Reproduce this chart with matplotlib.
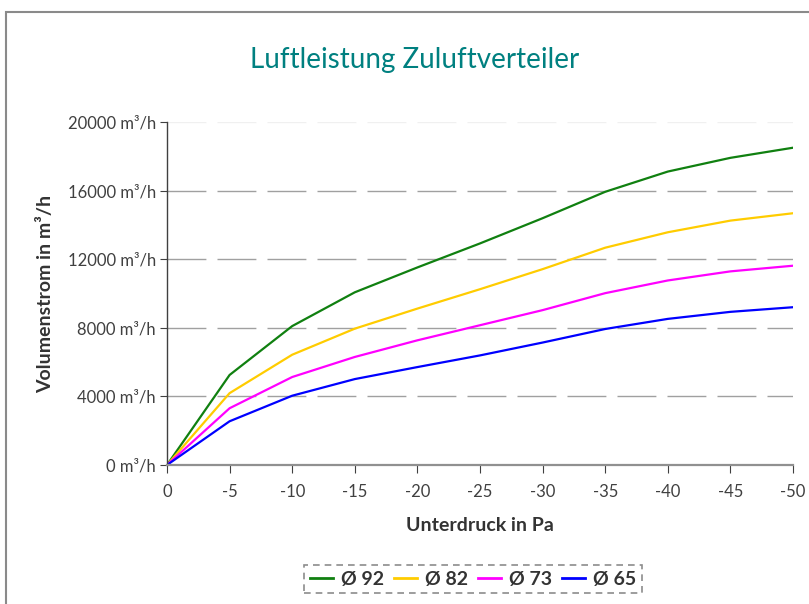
import matplotlib.pyplot as plt
from matplotlib.patches import Rectangle
from matplotlib.ticker import FuncFormatter

plt.rcParams['axes.unicode_minus'] = False
plt.rcParams['font.family'] = ['Lato', 'DejaVu Sans']

# Daten
druck = [0, -5, -10, -15, -20, -25, -30, -35, -40, -45, -50]
d92 = [0, 5250, 8100, 10070, 11520, 12920, 14390, 15930, 17110, 17910, 18500]
d82 = [0, 4190, 6430, 7950, 9120, 10250, 11420, 12670, 13570, 14250, 14680]
d73 = [0, 3310, 5130, 6300, 7270, 8150, 9030, 10020, 10760, 11290, 11620]
d65 = [0, 2550, 4040, 5010, 5710, 6390, 7140, 7930, 8520, 8930, 9200]
namen = ['Ø 92', 'Ø 82', 'Ø 73', 'Ø 65']
farben = ['#108010', '#FFCC00', '#FF00FF', '#0000FF']

fig = plt.figure(figsize=(8.09, 6.04), dpi=100)

# Rahmen um das Diagramm
fig.patches.append(Rectangle((6 / 809, -0.1), 1.2, 1.1 - 12 / 604,
                             transform=fig.transFigure, fill=False,
                             edgecolor='#8a8a8a', linewidth=1.5))

ax = fig.add_axes([167 / 809, 1 - 465 / 604, 626 / 809, 343 / 604])

for werte, name, farbe in zip([d92, d82, d73, d65], namen, farben):
    ax.plot(druck, werte, color=farbe, linewidth=1.6, label=name)

ax.set_xlim(0, -50)
ax.set_ylim(0, 20000)
ax.set_xticks(druck)
ax.set_xticklabels([str(d) for d in druck])
ax.set_yticks(range(0, 20001, 4000))
ax.yaxis.set_major_formatter(FuncFormatter(lambda v, p: f'{int(v)} m³/h'))

# Gitterlinien
for y in range(4000, 20000, 4000):
    ax.axhline(y, color='#a0a0a0', linewidth=1.0, dashes=(28, 8), zorder=0)
ax.axhline(20000, color='#f0f0f0', linewidth=1.0, dashes=(28, 8), zorder=0)

for s in ['top', 'right']:
    ax.spines[s].set_visible(False)
ax.spines['left'].set_color('#404040')
ax.spines['left'].set_linewidth(1.0)
ax.spines['bottom'].set_color('#909090')
ax.spines['bottom'].set_linewidth(1.6)
ax.tick_params(axis='y', direction='out', length=5, colors='#404040',
               labelsize=12, labelcolor='#404040', pad=3)
ax.tick_params(axis='x', direction='out', length=6, colors='#404040',
               labelsize=12, labelcolor='#404040', pad=8)

ax.set_xlabel('Unterdruck in Pa', fontsize=14, fontweight='bold',
              color='#333333', labelpad=12)
ax.set_ylabel('Volumenstrom in m³/h', fontsize=14, fontweight='bold',
              color='#333333', labelpad=10)

fig.text(415 / 809, 1 - 60 / 604, 'Luftleistung Zuluftverteiler',
         ha='center', va='center', fontsize=20, color='#008080')

leg = fig.legend(loc='center', bbox_to_anchor=(473 / 809, 1 - 579 / 604),
                 ncol=4, fontsize=14, frameon=True, fancybox=False,
                 handlelength=1.2, handletextpad=0.4, columnspacing=0.5,
                 borderpad=0.3)
frame = leg.get_frame()
frame.set_edgecolor('#707070')
frame.set_linestyle((0, (4, 3)))
frame.set_linewidth(1.2)
for t in leg.get_texts():
    t.set_fontweight('bold')
    t.set_color('#333333')
for h in leg.get_lines():
    h.set_linewidth(2)

fig.savefig('out.png', dpi=100)
